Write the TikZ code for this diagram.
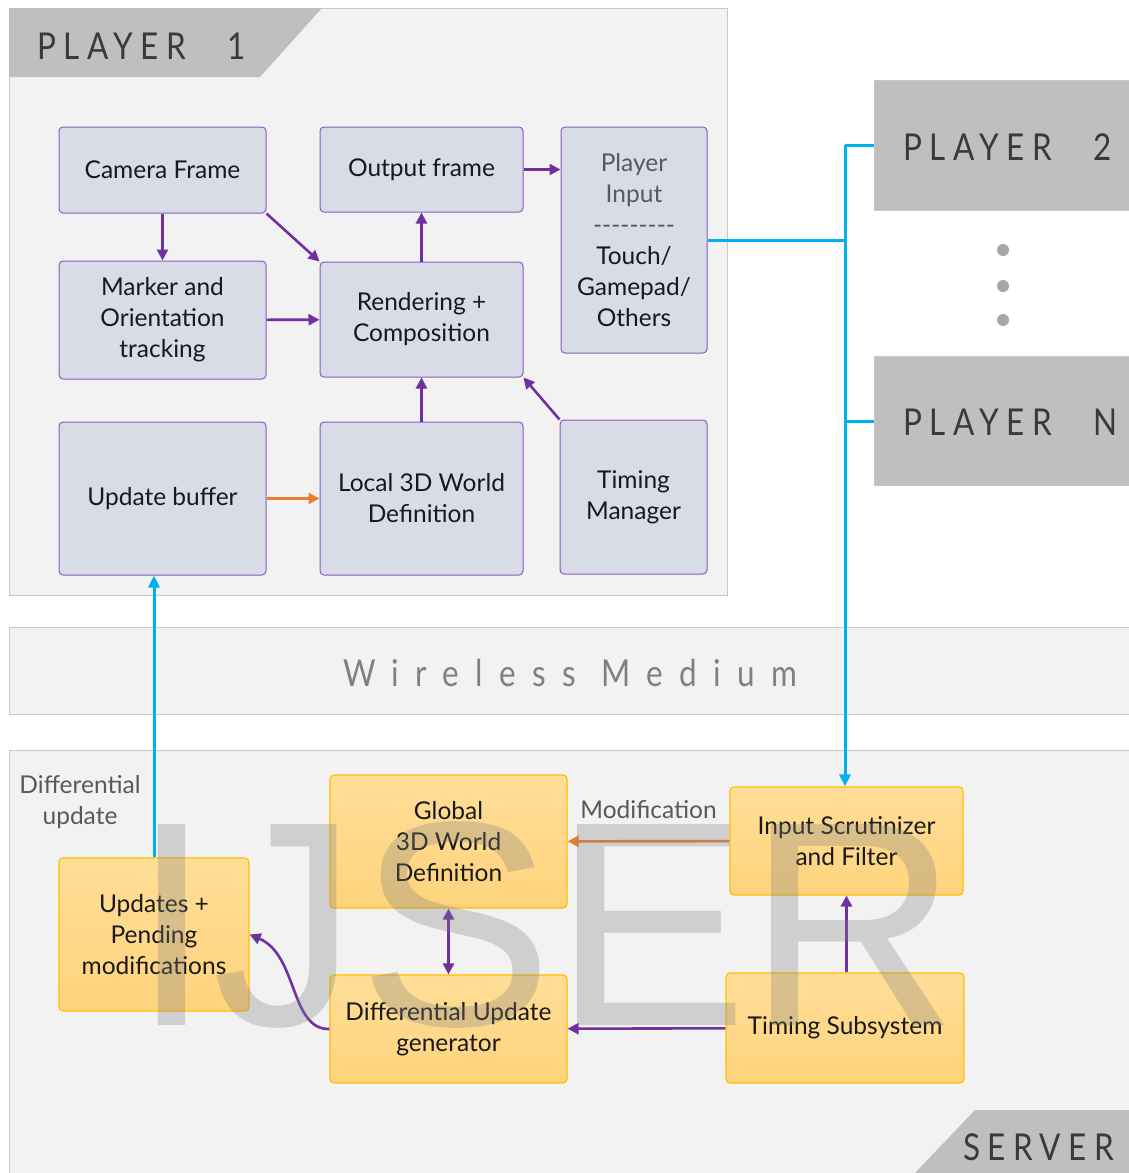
\documentclass[tikz,border=0pt]{standalone}
\usepackage{fontspec}
\setmainfont{Lato}
\newfontfamily\tabfont[LetterSpace=20,FakeStretch=0.85]{Lato}
\newfontfamily\wlfont[LetterSpace=44,FakeStretch=0.85]{Lato}
\newfontfamily\wmfont{Liberation Sans}
\usetikzlibrary{arrows.meta}
\definecolor{pur}{HTML}{7030A0}
\definecolor{pbord}{HTML}{8A5CC0}
\definecolor{pfill}{HTML}{D7DCE6}
\definecolor{blu}{HTML}{00B0F0}
\definecolor{ora}{HTML}{ED7D31}
\definecolor{panel}{HTML}{F2F2F2}
\definecolor{pline}{HTML}{C8C8C8}
\definecolor{tabg}{HTML}{BFBFBF}
\definecolor{tabt}{HTML}{3A3A3A}
\definecolor{lbl}{HTML}{595959}
\definecolor{ybord}{HTML}{FFC000}
\tikzset{
  pbox/.style={draw=pbord, line width=1pt, fill=pfill, rounded corners=4pt, inner sep=0pt,
    align=center, font=\fontsize{24.5}{31}\selectfont, text=black!90},
  ybox/.style={draw=ybord, line width=1.2pt, rounded corners=4pt, inner sep=0pt,
    align=center, font=\fontsize{24.5}{31}\selectfont, text=black!90,
    top color={rgb,255:red,255;green,222;blue,152}, bottom color={rgb,255:red,255;green,211;blue,124}},
  parr/.style={draw=pur, line width=2.6pt, -{Triangle[length=11pt,width=11pt]}},
  oarr/.style={draw=ora, line width=2.6pt, -{Triangle[length=11pt,width=11pt]}},
  barr/.style={draw=blu, line width=3pt, -{Triangle[length=12pt,width=11pt]}},
  bline/.style={draw=blu, line width=3pt},
  tabtext/.style={font=\tabfont\fontsize{37}{40}\selectfont, text=tabt, inner sep=0pt},
  lbltext/.style={font=\fontsize{24.5}{31}\selectfont, text=lbl, align=center, inner sep=0pt},
}
\begin{document}
\begin{tikzpicture}[x=1pt,y=-1pt]
\useasboundingbox (0,0) rectangle (1129,1173);
\fill[white] (0,0) rectangle (1129,1173);
% panels
\draw[pline, fill=panel, line width=1pt] (9,8) rectangle (727,595);
\fill[tabg] (9,8) -- (322,8) -- (260,77) -- (9,77) -- cycle;
\node[tabtext, anchor=base west] (t1) at (37,59) {PLAYER\hspace{42pt}1};
\draw[pline, fill=panel, line width=1pt] (1140,627) -- (9,627) -- (9,714) -- (1140,714);
\node[font=\wlfont\fontsize{37}{40}\selectfont, text=black!50, inner sep=0pt, anchor=base] (wm) at (570,686) {Wireless\hspace{26pt}Medium};
\draw[pline, fill=panel, line width=1pt] (1140,750) -- (9,750) -- (9,1180) -- (1140,1180);
\fill[tabg] (975,1110) -- (1140,1110) -- (1140,1180) -- (915,1180) -- (915,1173) -- cycle;
\node[tabtext, anchor=base west] (ts) at (963,1160) {SERVER};
% other players
\draw[pline, fill=tabg, line width=1pt] (874,80) rectangle (1140,210);
\node[tabtext, anchor=base west] (p2t) at (903,160) {PLAYER\hspace{42pt}2};
\draw[pline, fill=tabg, line width=1pt] (874,356) rectangle (1140,485);
\node[tabtext, anchor=base west] (pnt) at (903,435) {PLAYER\hspace{42pt}N};
\coordinate (p2) at (874,145);
\coordinate (pn) at (874,421);
\foreach \yy in {250,286,320} \fill[black!35] (1003,\yy) circle (6);
% player 1 boxes
\node[pbox, minimum width=207, minimum height=86] (cam) at (162.5,170) {Camera Frame};
\node[pbox, minimum width=203, minimum height=85] (outf) at (421.5,169.5) {Output frame};
\node[pbox, minimum width=146, minimum height=226] (pin) at (634,240) {\textcolor{lbl}{Player}\\\textcolor{lbl}{Input}\\\textcolor{lbl}{\mbox{-{}-{}-{}-{}-{}-{}-{}-{}-}}\\Touch/\\Gamepad/\\Others};
\node[pbox, minimum width=207, minimum height=118] (mark) at (162.5,320) {Marker and\\Orientation\\tracking};
\node[pbox, minimum width=203, minimum height=115] (rend) at (421.5,319.5) {Rendering +\\Composition};
\node[pbox, minimum width=207, minimum height=153] (upb) at (162.5,498.5) {Update buffer};
\node[pbox, minimum width=203, minimum height=153] (loc) at (421.5,498.5) {Local 3D World\\Definition};
\node[pbox, minimum width=147, minimum height=154] (tim) at (633.5,497) {Timing\\Manager};
% player 1 arrows
\draw[parr] (cam) -- (mark);
\draw[parr] (cam.south east) -- (rend.north west);
\draw[parr] (mark) -- (rend);
\draw[parr] (rend) -- (outf);
\draw[parr] (outf) -- (pin.west |- outf);
\draw[parr] (loc) -- (rend);
\draw[parr] (tim.north west) -- (rend.south east);
\draw[oarr] (upb) -- (loc);
% server boxes
\node[ybox, minimum width=237, minimum height=133] (glob) at (448.5,841.5) {Global\\3D World\\Definition};
\node[ybox, minimum width=233, minimum height=108] (insc) at (846.5,841) {Input Scrutinizer\\and Filter};
\node[ybox, minimum width=190, minimum height=153] (upd) at (154,934.5) {Updates +\\Pending\\modifications};
\node[ybox, minimum width=237, minimum height=108] (dug) at (448.5,1029) {Differential Update\\generator};
\node[ybox, minimum width=238, minimum height=110] (tss) at (845,1028) {Timing Subsystem};
% server arrows
\draw[oarr] (insc) -- (glob) node[lbltext, midway, above=21pt] (modl) {Modification};
\draw[draw=pur, line width=2.6pt, {Triangle[length=11pt,width=11pt]}-{Triangle[length=11pt,width=11pt]}] (glob) -- (dug);
\draw[parr] (tss.north -| insc) -- (insc);
\draw[parr] (tss) -- (dug);
\draw[parr] (dug.west) .. controls (290,1030) and (298,955) .. (upd.east);
% blue connections
\coordinate (bj) at (845,240);
\draw[bline] (pin.east |- bj) -- (bj);
\draw[bline] (845,145) -- (p2);
\draw[bline] (845,421) -- (pn);
\draw[barr] (845,145) -- (insc.north -| bj);
\draw[barr] (upd.north) -- (upb.south -| upd.north);
\node[lbltext] (dlbl) at (80,802) {Differential\\update};
% watermark
\node[font=\wmfont\fontsize{292}{292}\selectfont, text=black!50, opacity=0.3, anchor=base west, inner sep=0pt] (ij) at (131,1025) {IJSER};
\end{tikzpicture}
\end{document}
